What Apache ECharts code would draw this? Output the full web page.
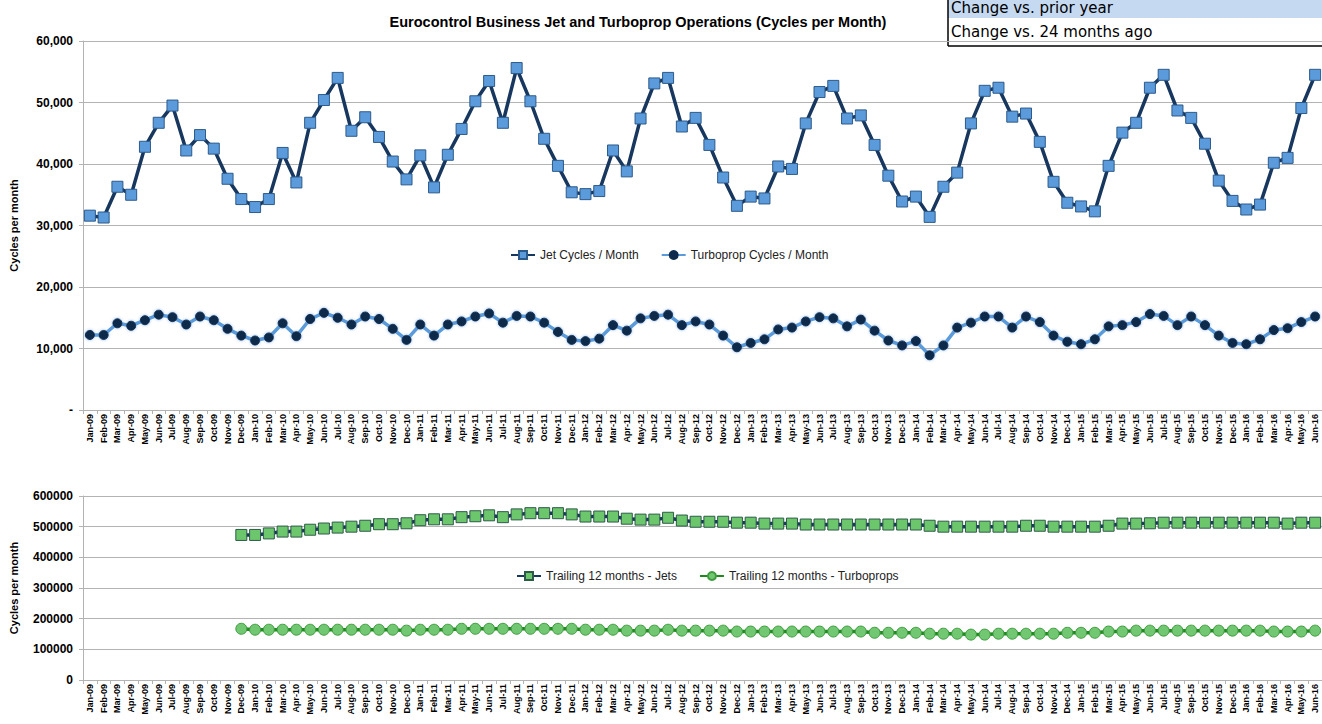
<!DOCTYPE html>
<html>
<head>
<meta charset="utf-8">
<script src="https://cdn.jsdelivr.net/npm/echarts@6/dist/echarts.min.js"></script>
<style>
  html, body { margin: 0; padding: 0; background: #fff; }
  #chart { width: 1322px; height: 724px; }
</style>
</head>
<body>
<div id="chart"></div>
<script>
(function() {
  // --- categories: Jan-09 .. Jun-16 ---
  var monthNames = ['Jan', 'Feb', 'Mar', 'Apr', 'May', 'Jun', 'Jul', 'Aug', 'Sep', 'Oct', 'Nov', 'Dec'];
  var years = ['09', '10', '11', '12', '13', '14', '15', '16'];
  var months = [];
  years.forEach(function(y, yi) {
    monthNames.forEach(function(m, mi) {
      if (yi < 7 || mi < 6) months.push(m + '-' + y);
    });
  });

  // --- monthly cycles ---
  var jetCycles = [
    31600, 31300, 36300, 35000, 42800, 46700, 49500, 42200, 44700, 42500, 37600, 34300,
    33000, 34300, 41800, 37000, 46700, 50400, 54000, 45400, 47600, 44400, 40400, 37500,
    41400, 36200, 41500, 45700, 50200, 53500, 46700, 55600, 50200, 44100, 39700, 35400,
    35100, 35600, 42200, 38800, 47400, 53100, 54000, 46100, 47500, 43100, 37800, 33200,
    34700, 34400, 39600, 39200, 46600, 51700, 52700, 47400, 47900, 43100, 38100, 33900,
    34700, 31400, 36300, 38600, 46600, 51900, 52400, 47700, 48200, 43600, 37100, 33700,
    33100, 32300, 39700, 45100, 46700, 52400, 54500, 48700, 47500, 43300, 37300, 34000,
    32600, 33400, 40200, 41000, 49100, 54500
  ];
  var turboCycles = [
    12200, 12200, 14100, 13700, 14600, 15500, 15100, 13900, 15200, 14600, 13200, 12100,
    11300, 11800, 14100, 12000, 14800, 15800, 15000, 13900, 15200, 14800, 13200, 11400,
    13900, 12100, 13900, 14400, 15200, 15700, 14200, 15300, 15200, 14200, 12700, 11400,
    11200, 11600, 13800, 12900, 14900, 15300, 15500, 13800, 14400, 13900, 12100, 10200,
    10900, 11500, 13100, 13400, 14400, 15100, 14900, 13600, 14700, 12900, 11300, 10500,
    11200, 8900, 10500, 13400, 14200, 15200, 15200, 13400, 15200, 14300, 12100, 11100,
    10700, 11500, 13600, 13800, 14300, 15600, 15300, 13800, 15200, 13800, 12100, 10900,
    10700, 11500, 13000, 13300, 14300, 15200
  ];

  // --- trailing 12 months (starts Dec-09) ---
  var trailJets = [
    null, null, null, null, null, null, null, null, null, null, null, 473000,
    473000, 478000, 484000, 484000, 490000, 494000, 497000, 500000, 503000, 508000, 508000, 511000,
    521000, 524000, 524000, 531000, 534000, 537000, 531000, 540000, 544000, 544000, 544000, 540000,
    533000, 533000, 533000, 526000, 523000, 523000, 529000, 520000, 516000, 516000, 516000, 513000,
    513000, 510000, 510000, 510000, 507000, 507000, 507000, 507000, 507000, 507000, 507000, 507000,
    507000, 503000, 500000, 500000, 500000, 500000, 500000, 500000, 503000, 503000, 500000, 500000,
    500000, 500000, 503000, 510000, 510000, 511000, 513000, 513000, 513000, 513000, 513000, 513000,
    513000, 513000, 513000, 510000, 513000, 513000
  ];
  var trailTurbo = [
    null, null, null, null, null, null, null, null, null, null, null, 167000,
    164000, 164000, 164000, 164000, 164000, 164000, 164000, 164000, 164000, 164000, 164000, 161000,
    164000, 164000, 164000, 167000, 167000, 167000, 167000, 167000, 167000, 167000, 167000, 167000,
    164000, 164000, 164000, 161000, 161000, 161000, 164000, 161000, 161000, 161000, 161000, 158000,
    158000, 158000, 158000, 158000, 158000, 158000, 158000, 158000, 158000, 154000, 154000, 154000,
    154000, 151000, 151000, 151000, 148000, 148000, 151000, 151000, 151000, 151000, 151000, 154000,
    154000, 154000, 158000, 158000, 161000, 161000, 161000, 161000, 161000, 161000, 161000, 161000,
    161000, 161000, 158000, 158000, 158000, 161000
  ];

  var font = 'Liberation Sans';
  var gridColor = '#b3b3b3';
  var navy = '#17375e';
  var band = 13.86;
  var plotW = Math.round(band * months.length);

  function xAxisFor(gi) {
    return {
      type: 'category',
      gridIndex: gi,
      data: months,
      boundaryGap: true,
      axisLine: { lineStyle: { color: gridColor } },
      axisTick: { show: true, alignWithLabel: false, length: 4, lineStyle: { color: gridColor } },
      axisLabel: {
        interval: 0, rotate: 90, color: '#000', fontFamily: font,
        fontSize: 9, fontWeight: 'bold', margin: 4
      }
    };
  }

  function yAxisFor(gi, max, step, fmt) {
    return {
      type: 'value', gridIndex: gi, min: 0, max: max, interval: step,
      name: 'Cycles per month', nameLocation: 'middle', nameGap: 64,
      nameTextStyle: { fontFamily: font, fontSize: 11, fontWeight: 'bold', color: '#000' },
      axisLine: { show: true, lineStyle: { color: gridColor } },
      axisTick: { show: true, length: 4, lineStyle: { color: gridColor } },
      splitLine: { lineStyle: { color: gridColor } },
      axisLabel: {
        fontFamily: font, fontSize: 12, fontWeight: 'bold', color: '#000', margin: 10,
        formatter: fmt
      }
    };
  }

  var chart = echarts.init(document.getElementById('chart'), null, { renderer: 'svg' });
  chart.setOption({
    animation: false,
    backgroundColor: '#fff',
    title: {
      text: 'Eurocontrol Business Jet and Turboprop Operations (Cycles per Month)',
      left: 633, top: 9, textAlign: 'center',
      textStyle: { fontFamily: font, fontSize: 14.5, fontWeight: 'bold', color: '#000' }
    },
    legend: [
      {
        data: ['Jet Cycles / Month', 'Turboprop Cycles / Month'],
        left: 505, top: 244,
        itemWidth: 24, itemHeight: 10, itemGap: 22,
        textStyle: { fontFamily: font, fontSize: 12, color: '#222' }
      },
      {
        data: ['Trailing 12 months - Jets', 'Trailing 12 months - Turboprops'],
        left: 511, top: 565,
        itemWidth: 24, itemHeight: 10, itemGap: 22,
        textStyle: { fontFamily: font, fontSize: 12, color: '#222' }
      }
    ],
    grid: [
      { left: 83, top: 41, width: plotW, height: 369 },
      { left: 83, top: 496, width: plotW, height: 184 }
    ],
    xAxis: [xAxisFor(0), xAxisFor(1)],
    yAxis: [
      yAxisFor(0, 60000, 10000, function(v) { return v === 0 ? '-' : v.toLocaleString('en-US'); }),
      yAxisFor(1, 600000, 100000, function(v) { return String(v); })
    ],
    series: [
      {
        name: 'Jet Cycles / Month', type: 'line', xAxisIndex: 0, yAxisIndex: 0,
        data: jetCycles, symbol: 'rect', symbolSize: 11,
        lineStyle: { color: navy, width: 3.5 },
        itemStyle: { color: '#5b9bdc', borderColor: '#2c5a8a', borderWidth: 1 }
      },
      {
        name: 'Turboprop Cycles / Month', type: 'line', xAxisIndex: 0, yAxisIndex: 0,
        data: turboCycles, symbol: 'circle', symbolSize: 9,
        lineStyle: { color: '#5c9bd9', width: 3.5 },
        itemStyle: { color: '#0f2a4c', borderColor: '#0f2a4c', borderWidth: 1,
          shadowBlur: 3, shadowColor: 'rgba(90,150,220,0.7)' }
      },
      {
        name: 'Trailing 12 months - Jets', type: 'line', xAxisIndex: 1, yAxisIndex: 1,
        data: trailJets, symbol: 'rect', symbolSize: 11,
        lineStyle: { color: navy, width: 3.5 },
        itemStyle: { color: '#6cc66c', borderColor: '#2e5a4a', borderWidth: 1 }
      },
      {
        name: 'Trailing 12 months - Turboprops', type: 'line', xAxisIndex: 1, yAxisIndex: 1,
        data: trailTurbo, symbol: 'circle', symbolSize: 11,
        lineStyle: { color: '#1e8a1e', width: 3.5 },
        itemStyle: { color: '#72c872', borderColor: '#3f9c3f', borderWidth: 1 }
      }
    ],
    // the little comparison box in the top right corner
    graphic: [
      { type: 'rect', shape: { x: 948, y: -2, width: 380, height: 20 }, style: { fill: '#c5d9f1' } },
      { type: 'text', x: 951, y: 0, style: { text: 'Change vs. prior year', font: '15px "DejaVu Sans"', fill: '#000' } },
      { type: 'text', x: 951, y: 24, style: { text: 'Change vs. 24 months ago', font: '15px "DejaVu Sans"', fill: '#000' } },
      { type: 'line', shape: { x1: 948, y1: 0, x2: 948, y2: 46 }, style: { stroke: '#000', lineWidth: 1.5 } },
      { type: 'line', shape: { x1: 948, y1: 46, x2: 1322, y2: 46 }, style: { stroke: '#000', lineWidth: 1.5 } }
    ]
  });
})();
</script>
</body>
</html>
